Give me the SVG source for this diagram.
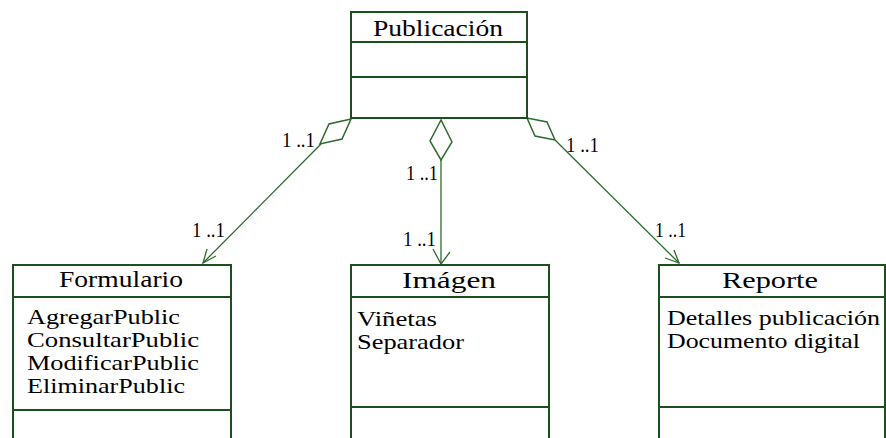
<svg xmlns="http://www.w3.org/2000/svg" width="886" height="438" viewBox="0 0 886 438">
  <defs>
    <style>
      .box { fill: #ffffff; stroke: #1d4f1d; stroke-width: 2; }
      .sep { stroke: #1d4f1d; stroke-width: 2; }
      .link { fill: none; stroke: #2f6b2f; stroke-width: 1.3; }
      .dia { fill: #ffffff; stroke: #2f6b2f; stroke-width: 1.5; }
      .title { font-family: "Liberation Serif", "Times New Roman", serif; font-size: 23px; fill: #000; }
      .attr { font-family: "Liberation Serif", "Times New Roman", serif; font-size: 21px; fill: #000; }
      .mult { font-family: "Liberation Serif", "Times New Roman", serif; font-size: 22px; fill: #000; }
    </style>
  </defs>

  <!-- aggregation connectors -->
  <g id="connectors">
    <!-- Publicación -> Formulario -->
    <line class="link" x1="321" y1="144" x2="203" y2="263"/>
    <polyline class="link" points="207,249 203,263 216,256"/>
    <polygon class="dia" points="351,119 329,124 320,144 342,139"/>
    <!-- Publicación -> Imágen -->
    <line class="link" x1="441" y1="160" x2="441" y2="264"/>
    <polyline class="link" points="433,249 441,264 450,252"/>
    <polygon class="dia" points="441,120 430,141 441,160 452,142"/>
    <!-- Publicación -> Reporte -->
    <line class="link" x1="555" y1="140" x2="679" y2="263"/>
    <polyline class="link" points="665,258 679,263 674,250"/>
    <polygon class="dia" points="527,118 547,122 555,140 535,136"/>

    <!-- multiplicities -->
    <text class="mult" x="282" y="147" textLength="33" lengthAdjust="spacingAndGlyphs">1 ..1</text>
    <text class="mult" x="566" y="152" textLength="33" lengthAdjust="spacingAndGlyphs">1 ..1</text>
    <text class="mult" x="406" y="180" textLength="32" lengthAdjust="spacingAndGlyphs">1 ..1</text>
    <text class="mult" x="403" y="246" textLength="33" lengthAdjust="spacingAndGlyphs">1 ..1</text>
    <text class="mult" x="192" y="237" textLength="33" lengthAdjust="spacingAndGlyphs">1 ..1</text>
    <text class="mult" x="655" y="237" textLength="31" lengthAdjust="spacingAndGlyphs">1 ..1</text>
  </g>

  <!-- Publicación -->
  <g id="publicacion">
    <rect class="box" x="351" y="12" width="176" height="106"/>
    <line class="sep" x1="351" y1="42" x2="527" y2="42"/>
    <line class="sep" x1="351" y1="77" x2="527" y2="77"/>
    <text class="title" x="373" y="36" textLength="130" lengthAdjust="spacingAndGlyphs">Publicación</text>
  </g>

  <!-- Formulario -->
  <g id="formulario">
    <rect class="box" x="13" y="265" width="218" height="185"/>
    <line class="sep" x1="13" y1="297" x2="231" y2="297"/>
    <line class="sep" x1="13" y1="410" x2="231" y2="410"/>
    <text class="title" x="59" y="287" textLength="124" lengthAdjust="spacingAndGlyphs">Formulario</text>
    <text class="attr" x="27" y="324" textLength="153" lengthAdjust="spacingAndGlyphs">AgregarPublic</text>
    <text class="attr" x="27" y="347" textLength="172" lengthAdjust="spacingAndGlyphs">ConsultarPublic</text>
    <text class="attr" x="27" y="370" textLength="172" lengthAdjust="spacingAndGlyphs">ModificarPublic</text>
    <text class="attr" x="27" y="393" textLength="158" lengthAdjust="spacingAndGlyphs">EliminarPublic</text>
  </g>

  <!-- Imágen -->
  <g id="imagen">
    <rect class="box" x="351" y="265" width="198" height="185"/>
    <line class="sep" x1="351" y1="297" x2="549" y2="297"/>
    <line class="sep" x1="351" y1="407" x2="549" y2="407"/>
    <text class="title" x="402" y="288" textLength="94" lengthAdjust="spacingAndGlyphs">Imágen</text>
    <text class="attr" x="357" y="326" textLength="80" lengthAdjust="spacingAndGlyphs">Viñetas</text>
    <text class="attr" x="357" y="349" textLength="107" lengthAdjust="spacingAndGlyphs">Separador</text>
  </g>

  <!-- Reporte -->
  <g id="reporte">
    <rect class="box" x="659" y="265" width="226" height="185"/>
    <line class="sep" x1="659" y1="297" x2="885" y2="297"/>
    <line class="sep" x1="659" y1="407" x2="885" y2="407"/>
    <text class="title" x="722" y="288" textLength="96" lengthAdjust="spacingAndGlyphs">Reporte</text>
    <text class="attr" x="667" y="325" textLength="213" lengthAdjust="spacingAndGlyphs">Detalles publicación</text>
    <text class="attr" x="667" y="348" textLength="193" lengthAdjust="spacingAndGlyphs">Documento digital</text>
  </g>
</svg>
